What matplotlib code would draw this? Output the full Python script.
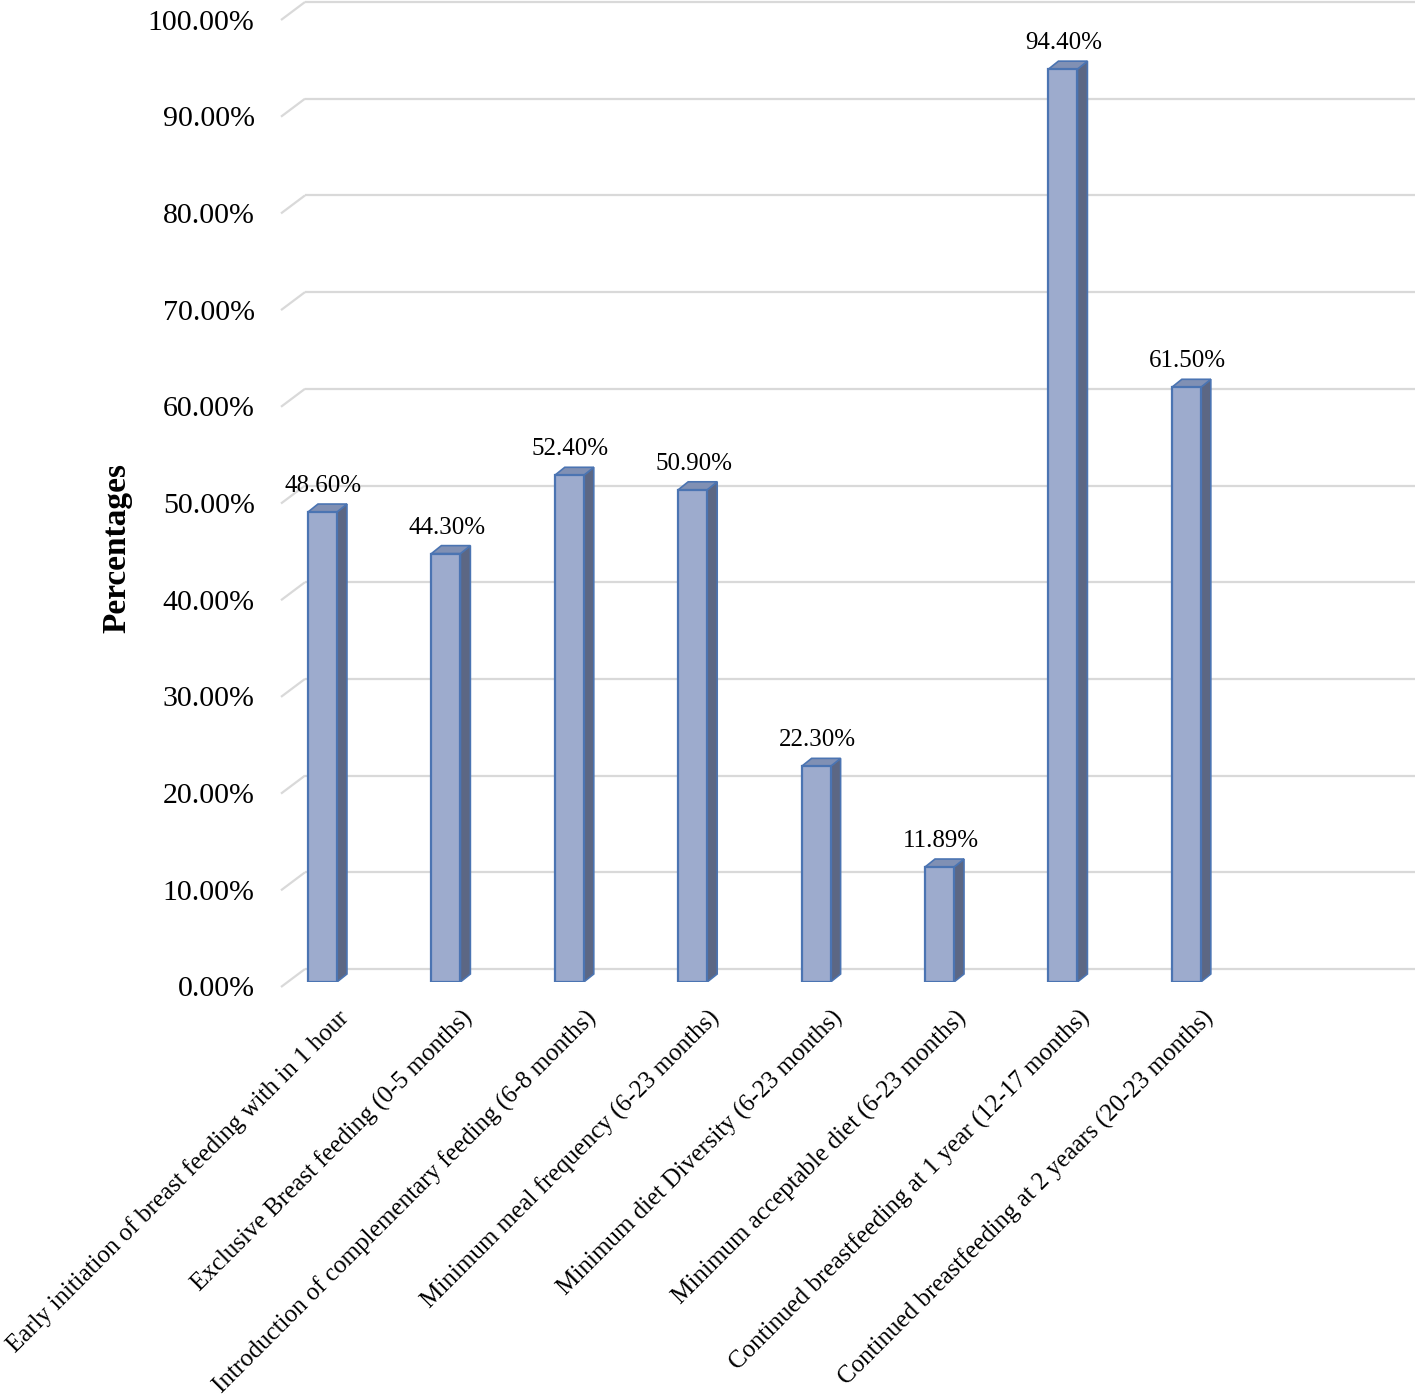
import matplotlib.pyplot as plt
import numpy as np
from matplotlib.patches import Polygon
from matplotlib.transforms import ScaledTranslation

# Data
categories = [
    "Early initiation of breast feeding with in 1 hour",
    "Exclusive Breast feeding (0-5 months)",
    "Introduction of complementary feeding (6-8 months)",
    "Minimum meal frequency (6-23 months)",
    "Minimum diet Diversity (6-23 months)",
    "Minimum acceptable diet (6-23 months)",
    "Continued breastfeeding at 1 year (12-17 months)",
    "Continued breastfeeding at 2 yeaars (20-23 months)",
]
values = [48.60, 44.30, 52.40, 50.90, 22.30, 11.89, 94.40, 61.50]
value_labels = ["48.60%", "44.30%", "52.40%", "50.90%", "22.30%", "11.89%", "94.40%", "61.50%"]
yticks = [0, 10, 20, 30, 40, 50, 60, 70, 80, 90, 100]
ytick_labels = ["%.2f%%" % t for t in yticks]

# Colors
front_color = "#9dabcd"
edge_color = "#4b74b2"
side_color = "#5c6784"
top_color = "#8090b4"
grid_color = "#d9d9d9"

plt.rcParams["font.family"] = ["Liberation Serif", "DejaVu Serif"]

W, H = 1415, 1397
fig = plt.figure(figsize=(W / 100, H / 100), dpi=100)
ax = fig.add_axes([281 / W, 415 / H, 1 - 281 / W, 967 / H])
ax.set_xlim(-0.336, 8.853)
ax.set_ylim(0, 100)
for s in ax.spines.values():
    s.set_visible(False)
ax.set_xticks([])

# pixel -> data helpers
px_x = (W - 281) / (8.853 + 0.336)
px_y = 967 / 100.0

def dxp(p):
    return p / px_x

def dyp(p):
    return p / px_y

x0 = ax.get_xlim()[0]
x1 = ax.get_xlim()[1]

# Gridlines (back wall + slanted floor edge)
for t in yticks:
    yb = t + dyp(13)
    ax.plot([x0, x0 + dxp(24)], [t - dyp(5), yb], color=grid_color, lw=1.6, zorder=1,
            solid_capstyle="butt", clip_on=False)
    ax.plot([x0 + dxp(24), x1], [yb, yb], color=grid_color, lw=1.6, zorder=1,
            solid_capstyle="butt", clip_on=False)

# 3D-looking bars
bw = dxp(29)
ddx, ddy = dxp(10), dyp(8)
x = np.arange(len(values))
for xi, v in zip(x, values):
    xl, xr = xi - bw / 2, xi + bw / 2
    side = Polygon([(xr, 0), (xr, v), (xr + ddx, v + ddy), (xr + ddx, ddy)],
                   closed=True, facecolor=side_color, edgecolor=edge_color, lw=1.2, zorder=3)
    top = Polygon([(xl, v), (xr, v), (xr + ddx, v + ddy), (xl + ddx, v + ddy)],
                  closed=True, facecolor=top_color, edgecolor=edge_color, lw=1.2, zorder=3)
    ax.add_patch(side)
    ax.add_patch(top)
ax.bar(x, values, width=bw, color=front_color, edgecolor=edge_color, linewidth=1.6, zorder=4)

# Value labels
for xi, v, lab in zip(x, values, value_labels):
    ax.text(xi + dxp(1), v + dyp(26), lab, ha="center", va="center", fontsize=18, zorder=5)

# Y ticks
ax.set_yticks(yticks)
ax.set_yticklabels(ytick_labels, fontsize=21.5)
ax.tick_params(axis="y", length=0, pad=19)
shift = ScaledTranslation(0, -4.5 / 100, fig.dpi_scale_trans)
for lab in ax.get_yticklabels():
    lab.set_transform(lab.get_transform() + shift)

# Category labels
lab_off = ScaledTranslation(15 / 100, -24 / 100, fig.dpi_scale_trans)
for xi, c in zip(x, categories):
    ax.text(xi, 0, c, rotation=45, ha="right", va="top", rotation_mode="anchor",
            fontsize=18, transform=ax.transData + lab_off)

fig.text(117 / W, 1 - 548 / H, "Percentages", rotation=90, ha="center", va="center",
         fontsize=24, fontweight="bold")

fig.savefig("out.png", dpi=100)
